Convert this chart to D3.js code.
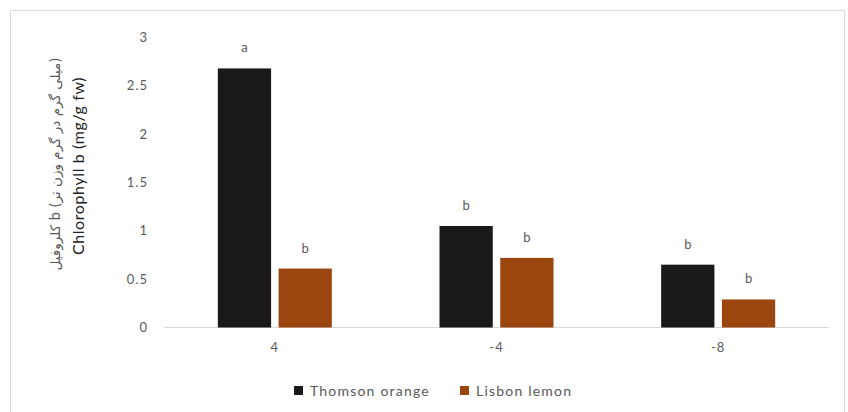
<!DOCTYPE html>
<html><head><meta charset="utf-8">
<script src="https://cdn.jsdelivr.net/npm/d3@7"></script>
<style>body{margin:0;background:#fff}svg{display:block}</style>
</head><body>
<script>
const categories = ["4", "-4", "-8"];
const seriesNames = ["Thomson orange", "Lisbon lemon"];
const thomson = [2.68, 1.05, 0.65];
const lisbon = [0.61, 0.72, 0.29];
const thomsonLetters = ["a", "b", "b"];
const lisbonLetters = ["b", "b", "b"];
const yTicks = [0, 0.5, 1, 1.5, 2, 2.5, 3];
const colors = ["#1a1818", "#9a460e"];

const W = 848, H = 412;
const svg = d3.select("body").append("svg").attr("width", W).attr("height", H);
svg.append("rect").attr("x", 10.5).attr("y", 10.5).attr("width", 834).attr("height", 410)
  .attr("fill", "#fff").attr("stroke", "#d9d9d9");

const x0 = d3.scaleBand().domain(categories).range([164, 829]);
const x1 = d3.scaleBand().domain(seriesNames).range([0, 114]).paddingInner(0.123);
const y = d3.scaleLinear().domain([0, 3]).range([327.5, 37.5]);

const font = "Lato, 'Open Sans', sans-serif";
const grey = "#595959";

// y tick labels
svg.append("g").selectAll("text").data(yTicks).join("text")
  .attr("x", 148).attr("y", d => y(d) + 4.5).attr("text-anchor", "end")
  .attr("font-family", font).attr("font-size", 13).attr("letter-spacing", 1).attr("fill", grey)
  .text(d => d);

// axis line
svg.append("line").attr("x1", 164).attr("x2", 829).attr("y1", y(0)).attr("y2", y(0))
  .attr("stroke", "#d9d9d9").attr("stroke-width", 1);

const data = categories.map((c, i) => ({c, vals: [
  {s: seriesNames[0], v: thomson[i], l: thomsonLetters[i]},
  {s: seriesNames[1], v: lisbon[i], l: lisbonLetters[i]}]}));

const groups = svg.append("g").selectAll("g").data(data).join("g")
  .attr("transform", d => `translate(${x0(d.c) + (x0.bandwidth() - 114) / 2},0)`);
groups.selectAll("rect").data(d => d.vals).join("rect")
  .attr("x", d => x1(d.s)).attr("width", x1.bandwidth())
  .attr("y", d => y(d.v)).attr("height", d => y(0) - y(d.v))
  .attr("fill", (d, i) => colors[i]);
groups.selectAll("text").data(d => d.vals).join("text")
  .attr("x", d => x1(d.s) + x1.bandwidth() / 2).attr("y", d => y(d.v) - 16)
  .attr("text-anchor", "middle").attr("font-family", font).attr("font-size", 13)
  .attr("fill", grey).text(d => d.l);

// category labels
svg.append("g").selectAll("text").data(categories).join("text")
  .attr("x", d => x0(d) + x0.bandwidth() / 2).attr("y", 352).attr("text-anchor", "middle")
  .attr("font-family", font).attr("font-size", 13).attr("letter-spacing", 1).attr("fill", grey).text(d => d);

// y axis titles
svg.append("text").attr("transform", "translate(60,164) rotate(-90)").attr("text-anchor", "middle")
  .attr("font-family", "'DejaVu Sans', sans-serif").attr("font-size", 13.5).attr("fill", grey)
  .text("کلروفیل b (میلی گرم در گرم وزن تر)");
svg.append("text").attr("transform", "translate(84,166) rotate(-90)").attr("text-anchor", "middle")
  .attr("font-family", font).attr("font-size", 16).attr("letter-spacing", 0.6).attr("fill", "#222")
  .text("Chlorophyll b (mg/g fw)");

// legend
const legendX = [294, 460];
const lg = svg.append("g").selectAll("g").data(seriesNames).join("g")
  .attr("transform", (d, i) => `translate(${legendX[i]},386)`);
lg.append("rect").attr("width", 9).attr("height", 9).attr("fill", (d, i) => colors[i]);
lg.append("text").attr("x", 16).attr("y", 9.5).attr("font-family", font).attr("font-size", 14)
  .attr("letter-spacing", 1.2).attr("fill", grey).text(d => d);
</script>
</body></html>
